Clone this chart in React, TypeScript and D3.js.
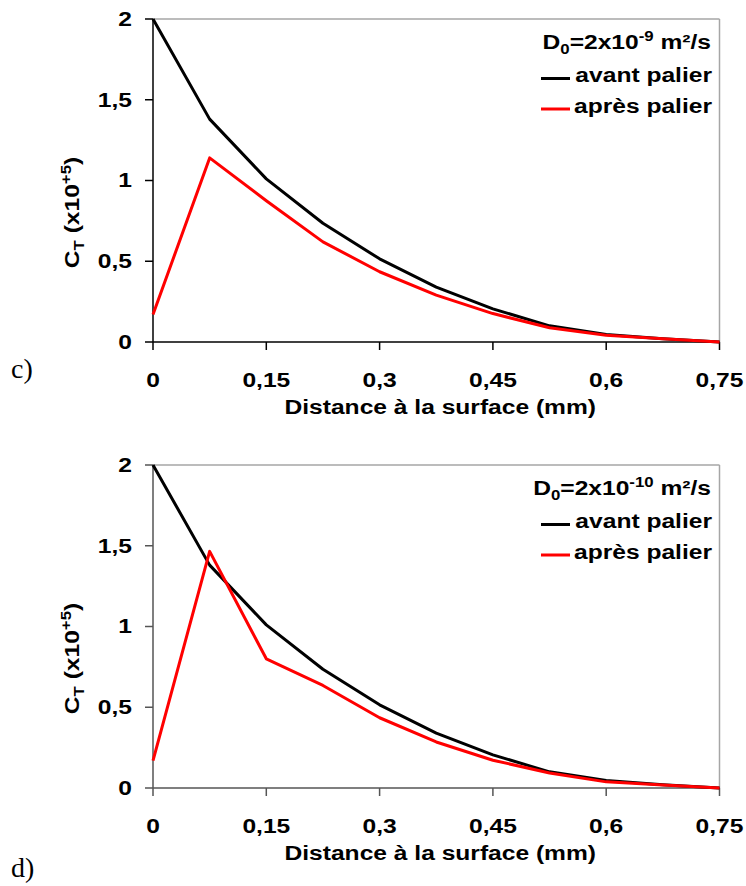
import React from "react";
import * as d3 from "d3";

const distances = [0, 0.075, 0.15, 0.225, 0.3, 0.375, 0.45, 0.525, 0.6, 0.675, 0.75];
const avantPalier = [2, 1.38, 1.01, 0.735, 0.515, 0.34, 0.205, 0.1, 0.046, 0.02, 0];
const apresPalierC = [0.17, 1.14, 0.875, 0.62, 0.435, 0.29, 0.176, 0.088, 0.042, 0.02, 0];
const apresPalierD = [0.17, 1.465, 0.8, 0.635, 0.435, 0.285, 0.172, 0.093, 0.038, 0.018, 0];
const xTicks = [0, 0.15, 0.3, 0.45, 0.6, 0.75];
const yTicks = [0, 0.5, 1, 1.5, 2];
const panelLetters = ["c)", "d)"];
const diffExponents = ["-9", "-10"];

const FONT = "Arial, 'Liberation Sans', sans-serif";
const FS = 20.5;
const SX = 1.2;
const fmt = (v: number) => String(v).replace(".", ",");

type TProps = {
  x: number;
  y: number;
  anchor?: "start" | "middle" | "end";
  rotate?: number;
  baseline?: string;
  children: React.ReactNode;
};

function T({ x, y, anchor = "start", rotate = 0, baseline, children }: TProps) {
  return (
    <text
      transform={`translate(${x},${y}) rotate(${rotate}) scale(${SX},1)`}
      textAnchor={anchor}
      dominantBaseline={baseline}
      fontFamily={FONT}
      fontWeight="bold"
      fontSize={FS}
    >
      {children}
    </text>
  );
}

type ChartProps = {
  top: number;
  red: number[];
  exponent: string;
  letter: string;
  letterDy: number;
  axisColor: string;
};

function Chart({ top, red, exponent, letter, letterDy, axisColor }: ChartProps) {
  const x0 = 153, x1 = 719.5;
  const h = 323;
  const x = d3.scaleLinear().domain([0, 0.75]).range([x0, x1]);
  const y = d3.scaleLinear().domain([0, 2]).range([top + h, top]);
  const line = d3
    .line<number>()
    .x((_, i) => x(distances[i]))
    .y((d) => y(d));
  const legX = 712;
  return (
    <g>
      {/* plot border */}
      <line x1={x0} x2={x1} y1={y(2)} y2={y(2)} stroke="#a6a6a6" strokeWidth={1.5} />
      <line x1={x1} x2={x1} y1={y(2)} y2={y(0)} stroke="#a6a6a6" strokeWidth={1.5} />
      {/* axes */}
      <line x1={x0} x2={x0} y1={y(2)} y2={y(0)} stroke={axisColor} strokeWidth={1.5} />
      <line x1={x0} x2={x1} y1={y(0)} y2={y(0)} stroke={axisColor} strokeWidth={1.5} />
      {yTicks.map((t) => (
        <g key={"y" + t}>
          <line x1={x0 - 8} x2={x0} y1={y(t)} y2={y(t)} stroke={axisColor} strokeWidth={1.5} />
          <T x={132} y={y(t)} anchor="end" baseline="central">
            {fmt(t)}
          </T>
        </g>
      ))}
      {xTicks.map((t) => (
        <g key={"x" + t}>
          <line x1={x(t)} x2={x(t)} y1={y(0)} y2={y(0) + 8} stroke={axisColor} strokeWidth={1.5} />
          <T x={x(t)} y={y(0) + 38} anchor="middle" baseline="central">
            {fmt(t)}
          </T>
        </g>
      ))}
      <T x={(x0 + x1) / 2 + 4} y={y(0) + 65} anchor="middle" baseline="central">
        Distance à la surface (mm)
      </T>
      <T x={79} y={top + h / 2 + 32} anchor="middle" rotate={-90}>
        C<tspan fontSize={14} dy={5}>T</tspan>
        <tspan dy={-5}> (x10</tspan>
        <tspan fontSize={14} dy={-8}>+5</tspan>
        <tspan dy={8}>)</tspan>
      </T>
      {/* curves */}
      <path d={line(avantPalier) || ""} fill="none" stroke="#000" strokeWidth={3} strokeLinejoin="round" />
      <path d={line(red) || ""} fill="none" stroke="#ff0000" strokeWidth={3} strokeLinejoin="round" />
      {/* legend */}
      <T x={legX - 1} y={top + 29.5} anchor="end">
        D<tspan fontSize={14} dy={5}>0</tspan>
        <tspan dy={-5}>=2x10</tspan>
        <tspan fontSize={14} dy={-8}>{exponent}</tspan>
        <tspan dy={8}> m²/s</tspan>
      </T>
      <line x1={541} x2={570} y1={top + 59.5} y2={top + 59.5} stroke="#000" strokeWidth={3} />
      <T x={legX} y={top + 56} anchor="end" baseline="central">
        avant palier
      </T>
      <line x1={541} x2={570} y1={top + 90} y2={top + 90} stroke="#ff0000" strokeWidth={3} />
      <T x={legX} y={top + 87.5} anchor="end" baseline="central">
        après palier
      </T>
      <text
        x={11}
        y={y(0) + letterDy}
        fontFamily="'Liberation Serif', 'Times New Roman', serif"
        fontSize={28}
        dominantBaseline="central"
      >
        {letter}
      </text>
    </g>
  );
}

export default function App() {
  return (
    <svg width={746} height={886} style={{ position: "absolute", left: 0, top: 0, background: "#fff" }}>
      <rect width={746} height={886} fill="#fff" />
      <Chart top={19} red={apresPalierC} exponent={diffExponents[0]} letter={panelLetters[0]} letterDy={26} axisColor="#000" />
      <Chart top={465} red={apresPalierD} exponent={diffExponents[1]} letter={panelLetters[1]} letterDy={79} axisColor="#555" />
    </svg>
  );
}
